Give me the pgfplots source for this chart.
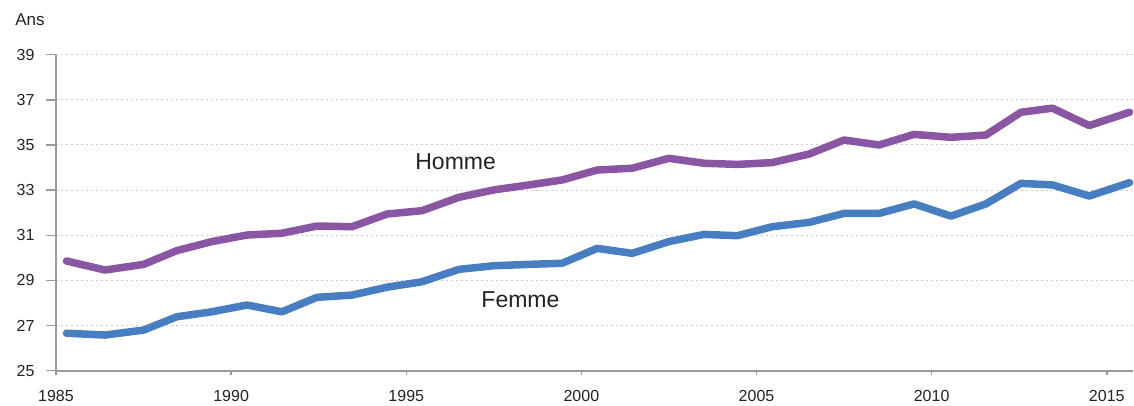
\documentclass[border=0pt]{standalone}
\usepackage{pgfplots}
\pgfplotsset{compat=1.18}
\usepackage{fontspec}
\setmainfont{Liberation Sans}
\definecolor{homme}{HTML}{8A56A3}
\definecolor{femme}{HTML}{477DC1}
\definecolor{axgray}{HTML}{9A9A9A}
\definecolor{txt}{HTML}{222222}
\begin{document}
\begin{tikzpicture}
\useasboundingbox (-56pt,-34.3pt) rectangle (1078pt,370.7pt);
\begin{axis}[
  at={(0,0)}, anchor=south west,
  scale only axis, width=1077pt, height=316pt,
  xmin=1985, xmax=2015.75, ymin=25, ymax=39,
  axis x line=bottom, axis y line=left,
  axis line style={axgray, line width=2pt, -},
  xtick={1985,1990,...,2015}, ytick={25,27,...,39},
  xticklabels={1985,1990,1995,2000,2005,2010,2015},
  tick align=outside,
  major tick length=10pt,
  tick style={axgray, line width=1.5pt},
  xtick style={/pgfplots/major tick length=4pt},
  ymajorgrids,
  major grid style={gray!40, dash pattern=on 2pt off 3pt, line width=1pt},
  ticklabel style={font=\fontsize{16}{18}\selectfont, text=txt},
  /pgf/number format/assume math mode=true,
  xticklabel style={yshift=-6pt},
  yticklabel style={xshift=-8pt},
  clip=false,
]
\addplot[homme, line width=7.5pt, line join=round, line cap=round] coordinates {
(1985.3,29.86) (1986.4,29.46) (1987.5,29.71) (1988.45,30.32) (1989.45,30.72)
(1990.45,31.01) (1991.45,31.09) (1992.45,31.41) (1993.45,31.38) (1994.45,31.94)
(1995.45,32.09) (1996.5,32.68) (1997.5,33.01) (1998.5,33.23) (1999.45,33.45)
(2000.45,33.89) (2001.45,33.97) (2002.5,34.41) (2003.5,34.19) (2004.45,34.14)
(2005.45,34.22) (2006.5,34.6) (2007.5,35.22) (2008.5,35.0) (2009.5,35.47)
(2010.55,35.34) (2011.55,35.44) (2012.55,36.45) (2013.45,36.63) (2014.5,35.86)
(2015.65,36.45)
};
\addplot[femme, line width=7.5pt, line join=round, line cap=round] coordinates {
(1985.3,26.66) (1986.4,26.58) (1987.5,26.8) (1988.45,27.39) (1989.45,27.61)
(1990.45,27.91) (1991.45,27.61) (1992.45,28.25) (1993.45,28.35) (1994.45,28.7)
(1995.45,28.94) (1996.5,29.49) (1997.5,29.65) (1998.5,29.71) (1999.45,29.76)
(2000.45,30.42) (2001.45,30.2) (2002.5,30.72) (2003.5,31.04) (2004.45,30.98)
(2005.45,31.38) (2006.5,31.57) (2007.5,31.97) (2008.5,31.97) (2009.5,32.39)
(2010.55,31.85) (2011.55,32.39) (2012.55,33.3) (2013.45,33.23) (2014.5,32.74)
(2015.65,33.33)
};
\node[font=\fontsize{23}{26}\selectfont, text=txt] at (axis cs:1996.41,34.25) {Homme};
\node[font=\fontsize{23}{26}\selectfont, text=txt] at (axis cs:1998.26,28.13) {Femme};
\node[font=\fontsize{17}{19}\selectfont, text=txt, anchor=west, inner sep=0pt] at (axis description cs:-0.038,1.11) {Ans};
\end{axis}
\end{tikzpicture}
\end{document}
